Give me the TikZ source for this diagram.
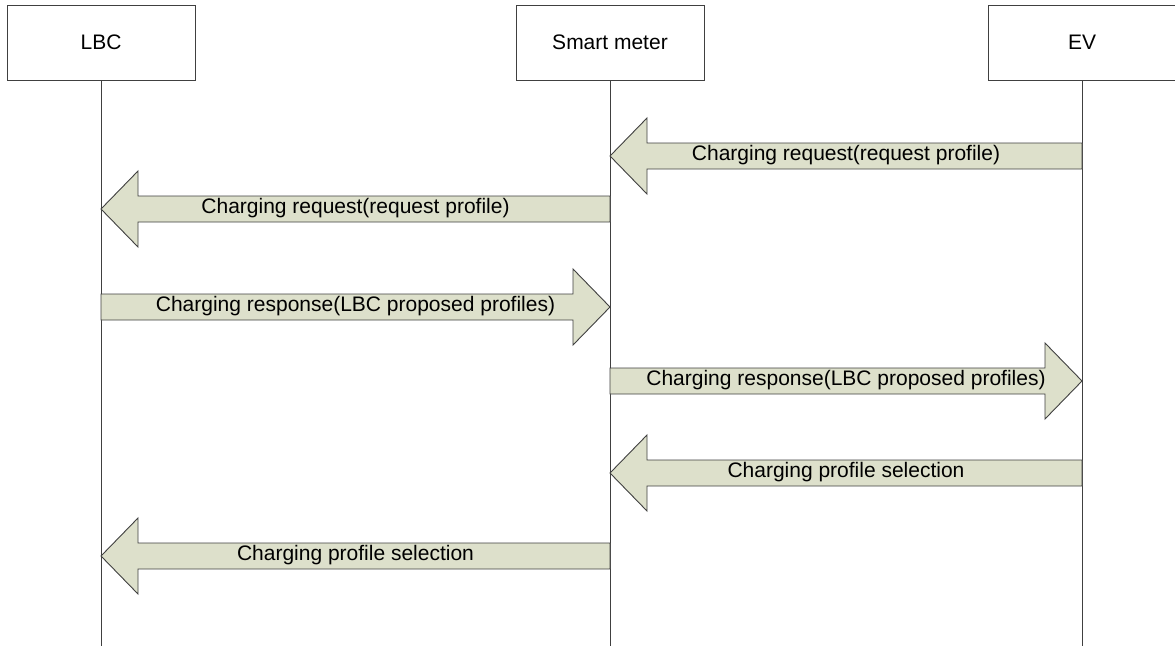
\documentclass[tikz,border=0pt]{standalone}
\usepackage{fontspec}
\setmainfont{Liberation Sans}
\usetikzlibrary{calc}
\definecolor{msgfill}{RGB}{221,224,203}
\definecolor{edge}{RGB}{64,64,64}
\tikzset{
  actor/.style={draw=edge, line width=0.9pt, fill=white, minimum width=188pt,
    minimum height=75pt, inner sep=0pt, font=\fontsize{21}{25}\selectfont},
  lifeline/.style={draw=edge, line width=0.9pt},
  msg/.style={draw=edge, line width=0.9pt, fill=msgfill, line join=miter},
  msgtext/.style={font=\fontsize{21}{25}\selectfont, inner sep=0pt}
}
% block arrow from #1 to #2; #3 = +1 to the right, -1 to the left
\newcommand{\msgarrow}[4]{%
  \draw[msg] ($(#1)+(0,-13)$) -- ($(#2)+({-37*(#3)},-13)$)
    -- ($(#2)+({-37*(#3)},-38)$) -- (#2) -- ($(#2)+({-37*(#3)},38)$)
    -- ($(#2)+({-37*(#3)},13)$) -- ($(#1)+(0,13)$) -- cycle;
  \node[msgtext] at ($(#1)!0.5!(#2)+(0,-1)$) {#4};%
}
\begin{document}
\begin{tikzpicture}[x=1pt,y=-1pt]
\useasboundingbox[fill=white] (0,0) rectangle (1175,646);

% actors
\node[actor] (lbc) at (101,42.5) {LBC};
\node[actor] (sm)  at (610,42.5) {Smart meter};
\node[actor] (ev)  at (1082,42.5) {EV};

% lifeline ends
\coordinate (lbcEnd) at (101,646);
\coordinate (smEnd)  at (610,646);
\coordinate (evEnd)  at (1082,646);
\draw[lifeline] (lbc.south) -- (lbcEnd);
\draw[lifeline] (sm.south) -- (smEnd);
\draw[lifeline] (ev.south) -- (evEnd);

% message rows
\foreach \r/\y in {1/156, 2/209, 3/307, 4/381, 5/473, 6/556} {
  \coordinate (r\r) at (0,\y);
  \coordinate (l\r) at (lbc.south |- r\r);
  \coordinate (s\r) at (sm.south |- r\r);
  \coordinate (e\r) at (ev.south |- r\r);
}

\msgarrow{e1}{s1}{-1}{Charging request(request profile)}
\msgarrow{s2}{l2}{-1}{Charging request(request profile)}
\msgarrow{l3}{s3}{1}{Charging response(LBC proposed profiles)}
\msgarrow{s4}{e4}{1}{Charging response(LBC proposed profiles)}
\msgarrow{e5}{s5}{-1}{Charging profile selection}
\msgarrow{s6}{l6}{-1}{Charging profile selection}
\end{tikzpicture}
\end{document}
